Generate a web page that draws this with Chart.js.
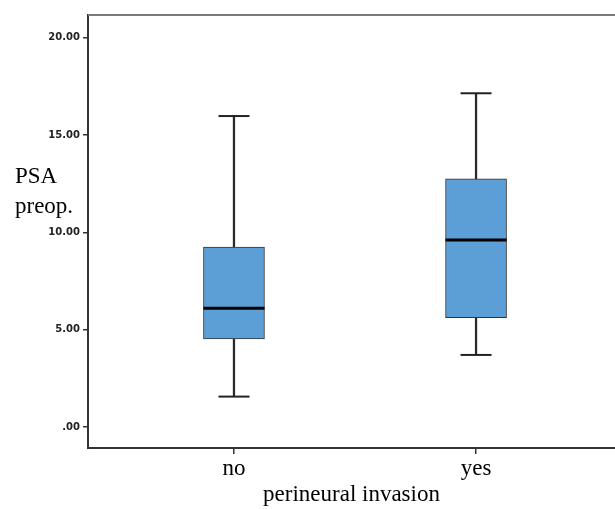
<!DOCTYPE html>
<html>
<head>
<meta charset="utf-8">
<script src="https://cdn.jsdelivr.net/npm/chart.js@4"></script>
<style>
    html, body { margin: 0; padding: 0; background: #fff; overflow: hidden; }
    #myChart { display: block; }
</style>
</head>
<body>
<canvas id="myChart" width="615" height="509"></canvas>
<script>
// dados (boxplot)
var categorias = ['no', 'yes'];
var minimo = [1.56, 3.70];
var q1 = [4.52, 5.61];
var mediana = [6.10, 9.60];
var q3 = [9.24, 12.74];
var maximo = [15.97, 17.14];
var yTicks = [0, 5, 10, 15, 20];

function pontos(vetor) {
    return categorias.map(function (c, i) { return { x: i + 1, y: vetor[i] }; });
}
function faixas(a, b) {
    return categorias.map(function (c, i) { return { x: i + 1, y: [a[i], b[i]] }; });
}

var serif = '"Liberation Serif", "Times New Roman", serif';

var rotuloY = {
    id: 'rotuloY',
    afterDraw: function (chart) {
        var ctx = chart.ctx;
        var area = chart.chartArea;
        ctx.save();
        // borda superior
        ctx.strokeStyle = '#7a7a7a';
        ctx.lineWidth = 2;
        ctx.beginPath();
        ctx.moveTo(area.left, area.top);
        ctx.lineTo(area.right, area.top);
        ctx.stroke();
        // titulo do eixo y
        ctx.fillStyle = '#000';
        ctx.font = '23px ' + serif;
        ctx.textBaseline = 'alphabetic';
        ctx.textAlign = 'left';
        ctx.fillText('PSA', 15, 183);
        ctx.fillText('preop.', 15, 213);
        ctx.restore();
    }
};

var ctx = document.getElementById('myChart').getContext('2d');
var myChart = new Chart(ctx, {
    type: 'bar',
    data: {
        datasets: [
            {
                type: 'scatter',
                label: 'mediana',
                data: pontos(mediana),
                pointStyle: 'line',
                radius: 30.5,
                borderWidth: 3,
                borderColor: '#000',
                order: 0
            },
            {
                label: 'caixa',
                data: faixas(q1, q3),
                backgroundColor: 'rgb(91,159,214)',
                borderColor: '#333',
                borderWidth: 1,
                borderSkipped: false,
                barThickness: 61,
                grouped: false,
                order: 1
            },
            {
                type: 'scatter',
                label: 'limites',
                data: pontos(maximo).concat(pontos(minimo)),
                pointStyle: 'line',
                radius: 15.5,
                borderWidth: 2,
                borderColor: '#222',
                order: 2
            },
            {
                label: 'bigode',
                data: faixas(minimo, maximo),
                backgroundColor: '#2a2a2a',
                borderWidth: 0,
                barThickness: 1.6,
                grouped: false,
                order: 3
            }
        ]
    },
    options: {
        responsive: false,
        animation: false,
        layout: { autoPadding: false, padding: { top: 15, left: 0, right: 0, bottom: 0 } },
        plugins: {
            legend: { display: false },
            tooltip: { enabled: false }
        },
        scales: {
            x: {
                type: 'linear',
                offset: false,
                min: 0.397,
                max: 2.574,
                afterBuildTicks: function (s) {
                    s.ticks = categorias.map(function (c, i) { return { value: i + 1 }; });
                },
                afterFit: function (s) { s.height = 61; },
                ticks: {
                    callback: function (v) { return categorias[v - 1]; },
                    font: { family: serif, size: 23 },
                    color: '#000',
                    padding: 1,
                    maxRotation: 0
                },
                grid: { offset: false, drawOnChartArea: false, tickLength: 6, color: '#333', lineWidth: 1.5 },
                border: { display: true, color: '#333', width: 2 },
                title: {
                    display: true,
                    text: 'perineural invasion',
                    font: { family: serif, size: 23 },
                    color: '#000',
                    padding: { top: 0, bottom: 0 }
                }
            },
            y: {
                min: -1.08,
                max: 21.16,
                afterBuildTicks: function (s) {
                    s.ticks = yTicks.map(function (v) { return { value: v }; });
                },
                afterFit: function (s) { s.width = 88; },
                ticks: {
                    callback: function (v) { return v === 0 ? '.00' : v.toFixed(2); },
                    font: { family: '"DejaVu Sans", sans-serif', size: 10, weight: 'bold' },
                    color: '#222',
                    padding: 3
                },
                grid: { drawOnChartArea: false, tickLength: 5, color: '#333', lineWidth: 1.5 },
                border: { display: true, color: '#333', width: 2 }
            }
        }
    },
    plugins: [rotuloY]
});
</script>
</body>
</html>
